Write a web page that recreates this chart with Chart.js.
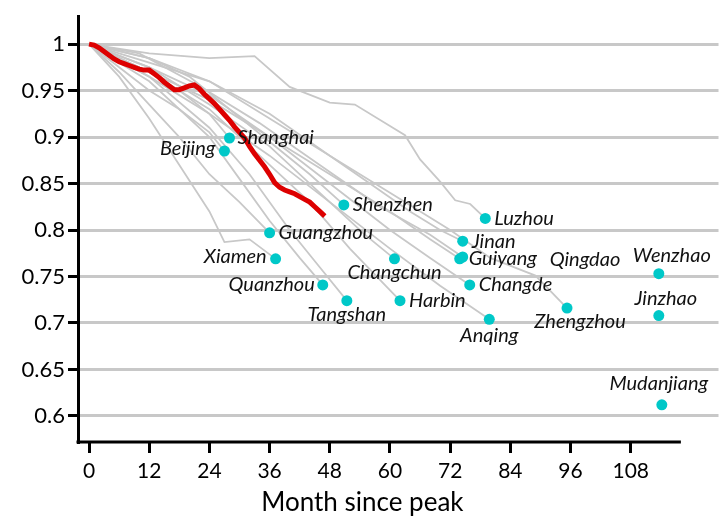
<!DOCTYPE html>
<html>
<head>
<meta charset="utf-8">
<script src="https://cdn.jsdelivr.net/npm/chart.js@4.4.1/dist/chart.umd.min.js"></script>
<style>
  html, body { margin: 0; padding: 0; background: #fff; }
</style>
</head>
<body>
<canvas id="chart" width="724" height="526"></canvas>
<script>
// national index, one value per month since peak (month = index)
const nationalIndex = [
  1.000, 0.999, 0.996, 0.992, 0.988, 0.984, 0.981, 0.979, 0.977, 0.975,
  0.973, 0.972, 0.972, 0.968, 0.964, 0.959, 0.955, 0.951, 0.951, 0.953,
  0.955, 0.956, 0.952, 0.946, 0.941, 0.936, 0.930, 0.924, 0.918, 0.911,
  0.905, 0.899, 0.890, 0.882, 0.875, 0.868, 0.860, 0.851, 0.846, 0.843,
  0.841, 0.839, 0.836, 0.833, 0.830, 0.825, 0.820, 0.815
];

const cities = ['Beijing', 'Shanghai', 'Guangzhou', 'Xiamen', 'Shenzhen', 'Quanzhou',
  'Tangshan', 'Changchun', 'Harbin', 'Luzhou', 'Jinan', 'Guiyang', 'Qingdao',
  'Changde', 'Anqing', 'Zhengzhou', 'Wenzhao', 'Jinzhao', 'Mudanjiang'];
const endMonth = [27, 28, 36, 37.2, 50.8, 46.6, 51.4, 60.9, 62, 79, 74.5, 73.9, 74.5,
  75.9, 79.8, 95.3, 113.6, 113.6, 114.2];
const endValue = [0.885, 0.899, 0.797, 0.769, 0.827, 0.741, 0.724, 0.769, 0.724, 0.8125,
  0.788, 0.769, 0.771, 0.741, 0.704, 0.716, 0.753, 0.708, 0.612];

// grey trails leading to each city's last point (same order as cities)
const trailMonths = [
  [0, 6, 12, 18, 24],
  [0, 6, 12, 18, 24],
  [0, 6, 12, 18, 24, 30],
  [0, 6, 12, 18, 24, 27, 32],
  [0, 12, 20, 28, 36, 44],
  [0, 12, 24, 30, 36, 42],
  [0, 12, 24, 32, 40, 46],
  [0, 12, 24, 36, 48, 55],
  [0, 12, 24, 36, 44, 52],
  [0, 12, 24, 33, 40, 48, 53, 60, 63, 66, 70, 73, 76],
  [0, 12, 24, 36, 48, 56, 64, 70],
  [0, 12, 24, 36, 48, 60, 68],
  [0, 10, 22, 34, 46, 58, 68],
  [0, 12, 24, 36, 48, 60, 68],
  [0, 12, 24, 36, 48, 60, 70],
  [0, 12, 24, 36, 48, 60, 72, 80, 89],
  [], [], []
];
const trailValues = [
  [1, 0.975, 0.950, 0.930, 0.905],
  [1, 0.985, 0.970, 0.950, 0.925],
  [1, 0.970, 0.935, 0.900, 0.860, 0.830],
  [1, 0.965, 0.920, 0.870, 0.820, 0.787, 0.790],
  [1, 0.985, 0.965, 0.930, 0.895, 0.860],
  [1, 0.960, 0.900, 0.855, 0.810, 0.770],
  [1, 0.965, 0.910, 0.860, 0.800, 0.760],
  [1, 0.975, 0.935, 0.890, 0.830, 0.795],
  [1, 0.970, 0.930, 0.870, 0.830, 0.780],
  [1, 0.990, 0.985, 0.987, 0.954, 0.937, 0.935, 0.912, 0.902, 0.876, 0.852, 0.832, 0.828],
  [1, 0.980, 0.960, 0.920, 0.880, 0.850, 0.820, 0.800],
  [1, 0.975, 0.945, 0.900, 0.860, 0.820, 0.790],
  [1, 0.990, 0.955, 0.915, 0.870, 0.825, 0.795],
  [1, 0.970, 0.940, 0.900, 0.850, 0.800, 0.770],
  [1, 0.965, 0.925, 0.880, 0.830, 0.780, 0.740],
  [1, 0.985, 0.960, 0.925, 0.880, 0.840, 0.800, 0.770, 0.751],
  [], [], []
];

const xTicks = [0, 12, 24, 36, 48, 60, 72, 84, 96, 108];
const yTicks = [0.6, 0.65, 0.7, 0.75, 0.8, 0.85, 0.9, 0.95, 1];

// label placement: [align, dx, dy] relative to the dot
const labelPlace = [
  ['right', -9, -2], ['left', 8, 0], ['left', 9, 0], ['right', -9, -2], ['left', 9, 0],
  ['right', -8, 0], ['center', 0, 14], ['center', 0, 14], ['left', 9, 0], ['left', 9, 0],
  ['left', 9, 0], ['left', 9, 0], ['left', 87, 3], ['left', 9, 0], ['center', 0, 16],
  ['center', 13, 13], ['center', 13, -18], ['center', 7, -17], ['center', -3, -21]
];

const trailSets = cities.map((c, i) => {
  if (!trailMonths[i].length) return null;
  const pts = trailMonths[i].map((m, j) => ({ x: m, y: trailValues[i][j] }));
  pts.push({ x: endMonth[i], y: endValue[i] });
  return {
    type: 'line', label: c, data: pts, order: 3,
    borderColor: '#c8c8c8', borderWidth: 1.8, pointRadius: 0, tension: 0
  };
}).filter(d => d);

const cityLabels = {
  id: 'cityLabels',
  afterDatasetsDraw(chart) {
    const ctx = chart.ctx;
    const meta = chart.getDatasetMeta(0);
    ctx.save();
    ctx.font = 'italic 20px Lato';
    ctx.fillStyle = '#111';
    ctx.textBaseline = 'middle';
    meta.data.forEach((pt, i) => {
      const p = labelPlace[i];
      ctx.textAlign = p[0];
      ctx.fillText(cities[i], pt.x + p[1], pt.y + p[2]);
    });
    ctx.restore();
  }
};

const bottomAxis = {
  id: 'bottomAxis',
  afterDraw(chart) {
    const ctx = chart.ctx;
    const x = chart.scales.x;
    const a = chart.chartArea;
    ctx.save();
    ctx.strokeStyle = '#000';
    ctx.lineWidth = 3;
    ctx.beginPath();
    ctx.moveTo(a.left - 1.5, a.bottom);
    ctx.lineTo(x.getPixelForValue(118), a.bottom);
    ctx.stroke();
    // axis title
    ctx.fillStyle = '#000';
    ctx.font = '26px Lato';
    ctx.textAlign = 'center';
    ctx.textBaseline = 'middle';
    ctx.fillText('Month since peak', x.getPixelForValue(54.5), 503);
    ctx.restore();
  }
};

new Chart(document.getElementById('chart'), {
  type: 'line',
  data: {
    datasets: [
      {
        type: 'scatter', label: 'cities', order: 0,
        data: cities.map((c, i) => ({ x: endMonth[i], y: endValue[i] })),
        pointBackgroundColor: '#00c8c8', pointBorderWidth: 0, pointRadius: 5.5
      },
      {
        type: 'line', label: 'national', order: 1,
        data: nationalIndex.map((v, i) => ({ x: i, y: v })),
        borderColor: '#dd0000', borderWidth: 5, pointRadius: 0, tension: 0
      },
      ...trailSets
    ]
  },
  options: {
    responsive: false,
    animation: false,
    layout: { padding: { top: 14, right: 0, left: 0, bottom: 0 } },
    plugins: { legend: { display: false }, tooltip: { enabled: false } },
    scales: {
      x: {
        type: 'linear', min: -2.2, max: 125.5,
        afterBuildTicks: a => { a.ticks = xTicks.map(v => ({ value: v })); },
        afterFit: s => { s.height = 84; },
        border: { display: false },
        grid: { drawOnChartArea: false, tickColor: '#000', tickLength: 11, tickWidth: 3 },
        ticks: { color: '#000', padding: 6, font: { family: 'Lato', size: 21 } }
      },
      y: {
        min: 0.572, max: 1.030,
        afterBuildTicks: a => { a.ticks = yTicks.map(v => ({ value: v })); },
        afterFit: s => { s.width = 78; },
        border: { color: '#000', width: 3 },
        grid: { color: '#c8c8c8', lineWidth: 3, tickColor: '#000', tickLength: 10, tickWidth: 3 },
        ticks: { color: '#000', padding: 3, font: { family: 'Lato', size: 22 },
          callback: v => String(v) }
      }
    }
  },
  plugins: [cityLabels, bottomAxis]
});
</script>
</body>
</html>
